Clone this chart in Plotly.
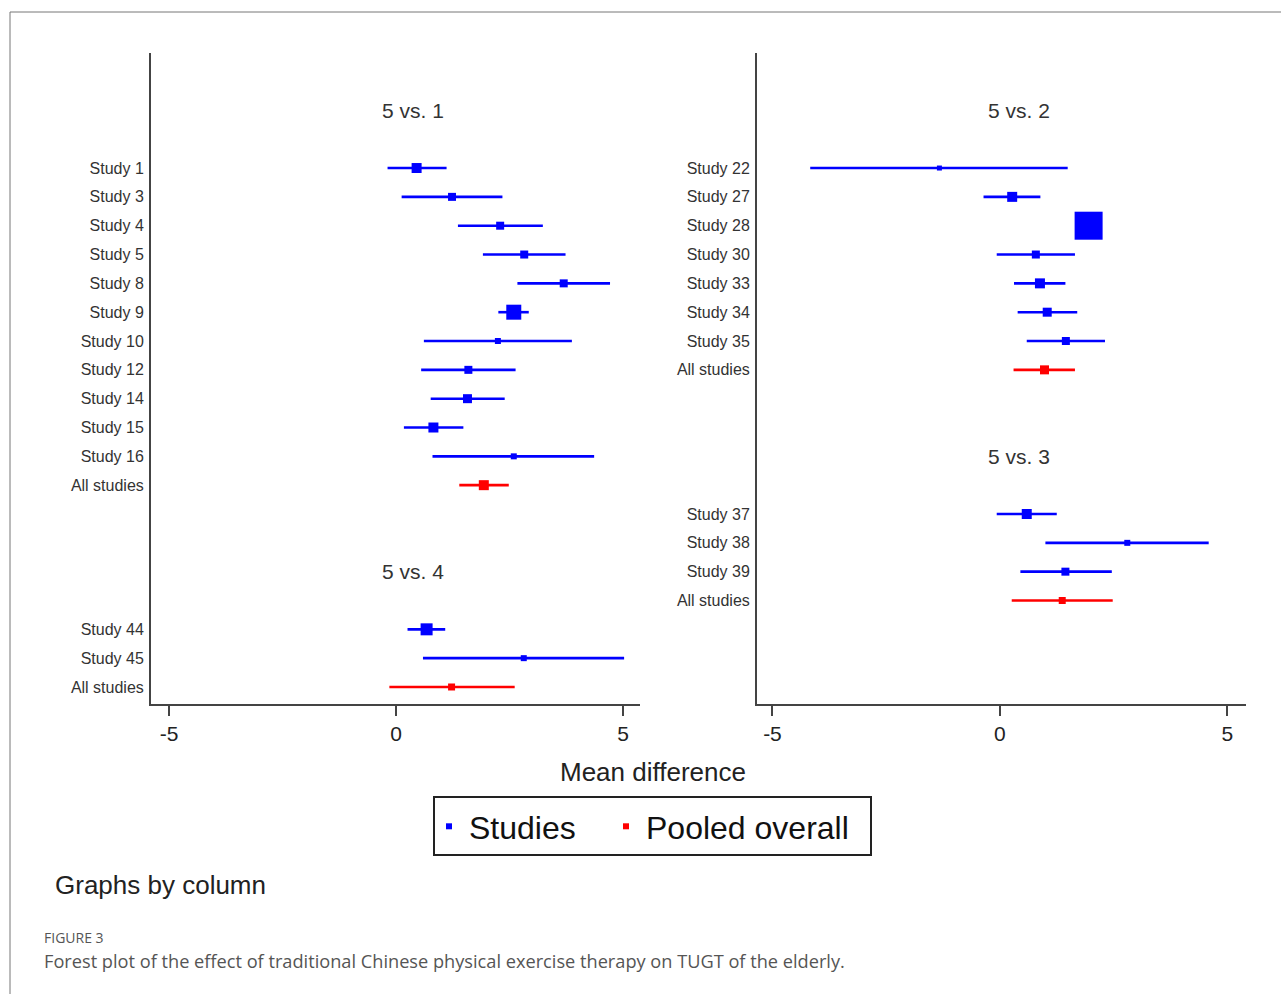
import plotly.graph_objects as go

# ---------------- data ----------------
# Left column
g1_title = "5 vs. 1"
g1_labels = ["Study 1", "Study 3", "Study 4", "Study 5", "Study 8", "Study 9", "Study 10",
             "Study 12", "Study 14", "Study 15", "Study 16", "All studies"]
g1_md = [0.45, 1.23, 2.29, 2.82, 3.69, 2.59, 2.24, 1.59, 1.57, 0.82, 2.59, 1.93]
g1_lo = [-0.19, 0.12, 1.36, 1.91, 2.67, 2.25, 0.61, 0.55, 0.76, 0.17, 0.80, 1.39]
g1_hi = [1.11, 2.34, 3.23, 3.73, 4.71, 2.92, 3.87, 2.63, 2.39, 1.48, 4.36, 2.48]
g1_w = [10, 8, 8, 8, 8, 15, 6, 8, 9, 10, 6, 10]

g4_title = "5 vs. 4"
g4_labels = ["Study 44", "Study 45", "All studies"]
g4_md = [0.67, 2.81, 1.22]
g4_lo = [0.25, 0.59, -0.15]
g4_hi = [1.08, 5.02, 2.61]
g4_w = [12, 6, 7]

# Right column
g2_title = "5 vs. 2"
g2_labels = ["Study 22", "Study 27", "Study 28", "Study 30", "Study 33", "Study 34",
             "Study 35", "All studies"]
g2_md = [-1.33, 0.27, 1.95, 0.79, 0.88, 1.04, 1.45, 0.98]
g2_lo = [-4.17, -0.36, 1.75, -0.07, 0.31, 0.39, 0.59, 0.30]
g2_hi = [1.49, 0.89, 2.15, 1.65, 1.44, 1.70, 2.31, 1.65]
g2_w = [5, 10, 28, 8, 10, 9, 8, 9]

g3_title = "5 vs. 3"
g3_labels = ["Study 37", "Study 38", "Study 39", "All studies"]
g3_md = [0.59, 2.80, 1.44, 1.37]
g3_lo = [-0.07, 1.00, 0.45, 0.26]
g3_hi = [1.25, 4.59, 2.46, 2.48]
g3_w = [10, 6, 8, 7]

x_ticks = [-5, 0, 5]
x_title = "Mean difference"

columns = [
    [(g1_title, g1_labels, g1_md, g1_lo, g1_hi, g1_w),
     (g4_title, g4_labels, g4_md, g4_lo, g4_hi, g4_w)],
    [(g2_title, g2_labels, g2_md, g2_lo, g2_hi, g2_w),
     (g3_title, g3_labels, g3_md, g3_lo, g3_hi, g3_w)],
]

BLUE = "#0000ff"
RED = "#ff0000"
FONT = "Liberation Sans, Arial, sans-serif"

fig = go.Figure()
annotations = []
tickinfo = []

for ci, groups in enumerate(columns):
    xa = "x" if ci == 0 else "x2"
    ya = "y" if ci == 0 else "y2"
    cursor = -2
    tvals, ttext = [], []
    for title, labels, md, lo, hi, w in groups:
        annotations.append(dict(
            text=title, x=0.535, xref=f"{xa} domain", y=cursor, yref=ya,
            showarrow=False, font=dict(family=FONT, size=21, color="#333333"),
            xanchor="center", yanchor="middle"))
        rows = [cursor + 2 + i for i in range(len(labels))]
        for r, lab, m, l, h, s in zip(rows, labels, md, lo, hi, w):
            color = RED if lab == "All studies" else BLUE
            fig.add_trace(go.Scatter(
                x=[m], y=[r], mode="markers", xaxis=xa, yaxis=ya,
                marker=dict(symbol="square", size=s, color=color),
                error_x=dict(type="data", symmetric=False, array=[h - m],
                             arrayminus=[m - l], color=color, thickness=2.6, width=0),
                showlegend=False, hoverinfo="x+y"))
        tvals += rows
        ttext += labels
        cursor = rows[-1] + 3
    tickinfo.append((tvals, ttext))

# legend-only traces (two legends inside one drawn frame)
fig.add_trace(go.Scatter(x=[None], y=[None], mode="markers", name="Studies", legend="legend",
                         marker=dict(symbol="square", size=6, color=BLUE)))
fig.add_trace(go.Scatter(x=[None], y=[None], mode="markers", name="Pooled overall",
                         legend="legend2",
                         marker=dict(symbol="square", size=6, color=RED)))

W, H = 1281, 994
def px_x(p):
    return p / W
def px_y(p):
    return 1 - p / H

y_dom = [px_y(704), px_y(53)]
yrange = [18.59, -3.99]

axis_common = dict(showgrid=False, zeroline=False, showline=True, linecolor="#444444",
                   linewidth=2)
xcommon = dict(axis_common, tickvals=x_ticks, ticktext=[str(t) for t in x_ticks],
               ticks="outside", ticklen=10, tickwidth=1.5, tickcolor="#444444",
               tickfont=dict(family=FONT, size=21, color="#222222"))
ycommon = dict(axis_common, range=yrange, ticks="", ticklabelstandoff=2,
               tickfont=dict(family=FONT, size=16, color="#333333"))

legend_common = dict(orientation="h", xanchor="left", yanchor="top", y=px_y(799),
                     borderwidth=0, bgcolor="rgba(0,0,0,0)",
                     font=dict(family=FONT, size=32, color="#111111"), itemwidth=30)

fig.update_layout(
    width=W, height=H,
    margin=dict(l=0, r=0, t=0, b=0),
    paper_bgcolor="white", plot_bgcolor="white",
    xaxis=dict(xcommon, domain=[px_x(151), px_x(640)], range=[-5.4, 5.37], anchor="y"),
    xaxis2=dict(xcommon, domain=[px_x(757), px_x(1246)], range=[-5.34, 5.41], anchor="y2"),
    yaxis=dict(ycommon, domain=y_dom, anchor="x",
               tickvals=tickinfo[0][0], ticktext=tickinfo[0][1]),
    yaxis2=dict(ycommon, domain=y_dom, anchor="x2",
                tickvals=tickinfo[1][0], ticktext=tickinfo[1][1]),
    showlegend=True,
    legend=dict(legend_common, x=px_x(429)),
    legend2=dict(legend_common, x=px_x(606)),
)

annotations += [
    dict(text=x_title, x=px_x(653), y=px_y(772), xref="paper", yref="paper",
         showarrow=False, font=dict(family=FONT, size=26, color="#222222"),
         xanchor="center", yanchor="middle"),
    dict(text="Graphs by column", x=px_x(53), y=px_y(885), xref="paper", yref="paper",
         showarrow=False, font=dict(family=FONT, size=26, color="#222222"),
         xanchor="left", yanchor="middle"),
    dict(text="FIGURE 3", x=px_x(42), y=px_y(937), xref="paper", yref="paper",
         showarrow=False, font=dict(family="Open Sans, sans-serif", size=14, color="#555555"),
         xanchor="left", yanchor="middle"),
    dict(text="Forest plot of the effect of traditional Chinese physical exercise therapy on TUGT of the elderly.",
         x=px_x(42), y=px_y(961), xref="paper", yref="paper",
         showarrow=False, font=dict(family="Open Sans, sans-serif", size=18.2, color="#555555"),
         xanchor="left", yanchor="middle"),
]
fig.update_layout(annotations=annotations)

# legend frame
fig.add_shape(type="rect", xref="paper", yref="paper", x0=px_x(434), x1=px_x(871),
              y0=px_y(855), y1=px_y(797), line=dict(color="#222222", width=2))
# outer frame (top and left edges)
fig.add_shape(type="line", xref="paper", yref="paper", x0=px_x(10), x1=1, y0=px_y(12), y1=px_y(12),
              line=dict(color="#777777", width=1))
fig.add_shape(type="line", xref="paper", yref="paper", x0=px_x(10), x1=px_x(10), y0=px_y(12), y1=0,
              line=dict(color="#777777", width=1))

fig.write_html("out.html")
